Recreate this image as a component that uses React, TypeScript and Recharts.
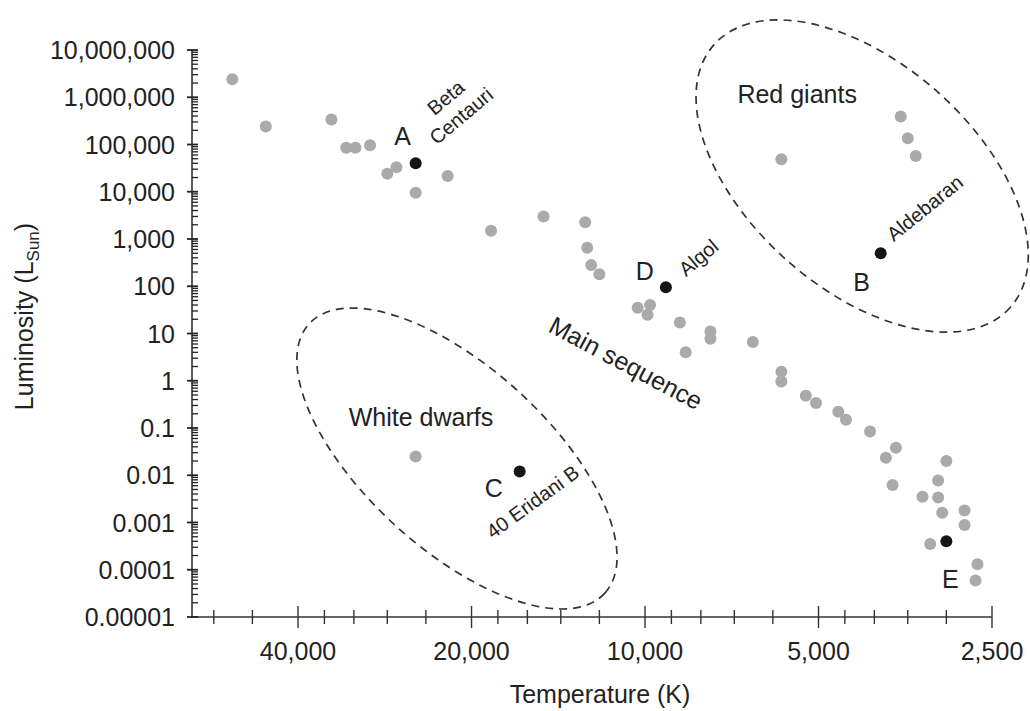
import React from 'react';
import { ScatterChart, Scatter, XAxis, YAxis, ReferenceDot, Label } from 'recharts';

// ---------- data ----------
const mainSequenceStars = [
  { t: 52000, l: 2400000 }, { t: 45500, l: 240000 }, { t: 35000, l: 340000 },
  { t: 33000, l: 85000 }, { t: 31800, l: 85000 }, { t: 30000, l: 96000 },
  { t: 28000, l: 24000 }, { t: 27000, l: 33000 }, { t: 25000, l: 9500 },
  { t: 22000, l: 21500 }, { t: 18500, l: 1500 }, { t: 15000, l: 3000 },
  { t: 12700, l: 2250 }, { t: 12600, l: 650 }, { t: 12400, l: 280 },
  { t: 12000, l: 180 }, { t: 10300, l: 35 }, { t: 9800, l: 40 },
  { t: 9900, l: 25 }, { t: 8700, l: 17 }, { t: 7700, l: 11 },
  { t: 7700, l: 7.7 }, { t: 8500, l: 4 }, { t: 6500, l: 6.6 },
  { t: 5800, l: 1.55 }, { t: 5800, l: 0.96 }, { t: 5260, l: 0.48 },
  { t: 5050, l: 0.34 }, { t: 4620, l: 0.22 }, { t: 4480, l: 0.15 },
  { t: 4070, l: 0.084 }, { t: 3670, l: 0.038 }, { t: 3820, l: 0.0235 },
  { t: 3000, l: 0.02 }, { t: 3720, l: 0.0062 }, { t: 3100, l: 0.0077 },
  { t: 3300, l: 0.0035 }, { t: 3100, l: 0.0034 }, { t: 3050, l: 0.0016 },
  { t: 2790, l: 0.0018 }, { t: 2790, l: 0.00089 }, { t: 3200, l: 0.00035 },
  { t: 2650, l: 0.00013 }, { t: 2670, l: 0.000059 },
];
const giantStars = [
  { t: 5800, l: 49000 }, { t: 3600, l: 390000 }, { t: 3500, l: 135000 }, { t: 3390, l: 57000 },
];
const dwarfStars = [{ t: 25000, l: 0.025 }];

const namedStars = [
  { t: 25000, l: 40000, letter: 'A', name: ['Beta', 'Centauri'] },
  { t: 3900, l: 500, letter: 'B', name: ['Aldebaran'] },
  { t: 16500, l: 0.012, letter: 'C', name: ['40 Eridani B'] },
  { t: 9200, l: 95, letter: 'D', name: ['Algol'] },
  { t: 3000, l: 0.0004, letter: 'E', name: [] as string[] },
];

const regions = [
  { key: 'giants', name: 'Red giants', t: 4200, l: 21500 },
  { key: 'dwarfs', name: 'White dwarfs', t: 21200, l: 0.0226 },
];
const sequenceLabel = { name: 'Main sequence', t: 14800, l: 11.3 };

const xMajorTicks = [40000, 20000, 10000, 5000, 2500];
const xMajorLabels = ['40,000', '20,000', '10,000', '5,000', '2,500'];
const xMinorTicks = [56000, 48000, 36000, 32000, 28000, 24000, 18000, 16000, 14000, 12000,
  9000, 8000, 7000, 6000, 4500, 4000, 3500, 3000];

const yMajorTicks = [1e7, 1e6, 1e5, 1e4, 1e3, 100, 10, 1, 0.1, 0.01, 0.001, 0.0001, 0.00001];
const yMajorLabels = ['10,000,000', '1,000,000', '100,000', '10,000', '1,000', '100', '10', '1',
  '0.1', '0.01', '0.001', '0.0001', '0.00001'];
const yMinorMultipliers = [2, 3, 4, 5, 6, 7, 8, 9];

const xDomain = [2500, 61100];
const yDomain = [0.00001, 10000000];

// ---------- styles ----------
const FONT = "'Liberation Sans', Arial, Helvetica, sans-serif";
const TEXT = '#222';
const AXIS = '#333';
const GREY = '#aaaaaa';
const BLACK = '#151515';
const DOT_R = 6;

const starLabelStyle: Record<string, any> = {
  A: { ldx: -13, ldy: -18, ndx: 50, ndy: -42, angle: -40, size: 20, anchor: 'middle', gap: 24 },
  B: { ldx: -19, ldy: 38, ndx: 13, ndy: -11, angle: -39, size: 20, anchor: 'start', gap: 0 },
  C: { ldx: -26, ldy: 25, ndx: -27, ndy: 68, angle: -36, size: 20, anchor: 'start', gap: 0 },
  D: { ldx: -21, ldy: -7, ndx: 20, ndy: -10, angle: -40, size: 20, anchor: 'start', gap: 0 },
  E: { ldx: 4, ldy: 47, ndx: 0, ndy: 0, angle: 0, size: 20, anchor: 'start', gap: 0 },
};

const regionStyle: Record<string, any> = {
  giants: { rx: 198, ry: 113, angle: 41.5, tdx: -65, tdy: -73 },
  dwarfs: { rx: 200, ry: 91, angle: 42.3, tdx: -36, tdy: -33 },
};

// ---------- helpers ----------
const yMinorTicks: number[] = [];
yMajorTicks.forEach((v) => {
  if (v < 1e7) yMinorMultipliers.forEach((m) => yMinorTicks.push(v * m));
});
const xTicks = [...xMajorTicks, ...xMinorTicks];
const yTicks = [...yMajorTicks, ...yMinorTicks];

const XTick = (props: any) => {
  const { x, y, payload } = props;
  const idx = xMajorTicks.indexOf(payload.value);
  const major = idx >= 0;
  const h = major ? 11 : 7;
  return (
    <g>
      <line x1={x} x2={x} y1={y - h} y2={y + h} stroke={AXIS} strokeWidth={1.4} />
      {major && (
        <text x={x} y={y + 43} textAnchor="middle" fontSize={25} fill={TEXT} fontFamily={FONT}>
          {xMajorLabels[idx]}
        </text>
      )}
    </g>
  );
};

const YTick = (props: any) => {
  const { x, y, payload } = props;
  const idx = yMajorTicks.indexOf(payload.value);
  const major = idx >= 0;
  return (
    <g>
      <line x1={major ? x - 5 : x} x2={x + 6} y1={y} y2={y} stroke="#222" strokeWidth={major ? 1.8 : 1.3} />
      {major && (
        <text x={x - 17} y={y} dy="0.36em" textAnchor="end" fontSize={25} fill={TEXT} fontFamily={FONT}>
          {yMajorLabels[idx]}
        </text>
      )}
    </g>
  );
};

const greyDot = (props: any) => <circle cx={props.cx} cy={props.cy} r={DOT_R} fill={GREY} />;

const namedDot = (props: any) => {
  const { cx, cy, payload } = props;
  const s = starLabelStyle[payload.letter];
  const lines: string[] = payload.name || [];
  return (
    <g fontFamily={FONT} fill={TEXT}>
      <circle cx={cx} cy={cy} r={DOT_R} fill={BLACK} />
      <text x={cx + s.ldx} y={cy + s.ldy} textAnchor="middle" fontSize={25}>{payload.letter}</text>
      {lines.length > 0 && (
        <g transform={`translate(${cx + s.ndx} ${cy + s.ndy}) rotate(${s.angle})`}>
          {lines.map((ln, i) => (
            <text key={i} x={0} y={-(lines.length - 1 - i) * s.gap} textAnchor={s.anchor} fontSize={s.size}>
              {ln}
            </text>
          ))}
        </g>
      )}
    </g>
  );
};

const regionShape = (key: string, name: string) => (props: any) => {
  const { cx, cy } = props;
  const s = regionStyle[key];
  return (
    <g>
      <ellipse cx={cx} cy={cy} rx={s.rx} ry={s.ry} transform={`rotate(${s.angle} ${cx} ${cy})`}
        fill="none" stroke={AXIS} strokeWidth={1.7} strokeDasharray="8 6" />
      <text x={cx + s.tdx} y={cy + s.tdy} textAnchor="middle" fontSize={25} fill={TEXT} fontFamily={FONT}>
        {name}
      </text>
    </g>
  );
};

const sequenceShape = (props: any) => (
  <text transform={`translate(${props.cx} ${props.cy}) rotate(28)`} fontSize={25} fill={TEXT} fontFamily={FONT}>
    {sequenceLabel.name}
  </text>
);

const XTitle = (props: any) => {
  const vb = props.viewBox || { x: 192, y: 617, width: 800, height: 60 };
  return (
    <text x={vb.x + vb.width / 2 + 8} y={vb.y + 86} textAnchor="middle" fontSize={25} fill={TEXT} fontFamily={FONT}>
      Temperature (K)
    </text>
  );
};

const YTitle = (props: any) => {
  const vb = props.viewBox || { x: 42, y: 50, width: 150, height: 567 };
  const x = vb.x + vb.width - 159;
  const y = vb.y + vb.height / 2 - 17;
  return (
    <text transform={`translate(${x} ${y}) rotate(-90)`} textAnchor="middle" fontSize={25} fill={TEXT} fontFamily={FONT}>
      Luminosity (L<tspan dy={6} fontSize={17}>Sun</tspan><tspan dy={-6}>)</tspan>
    </text>
  );
};

export default function App() {
  return (
    <div style={{ position: 'absolute', left: 0, top: 0, width: 1030, height: 711, background: '#fff', fontFamily: FONT }}>
      <ScatterChart width={1030} height={711} margin={{ top: 50, right: 38, bottom: 34, left: 42 }}>
        <XAxis
          type="number" dataKey="t" scale="log" domain={xDomain} allowDataOverflow reversed
          ticks={xTicks} interval={0} tickSize={0} tickMargin={0} tickLine={false}
          tick={<XTick />} height={60} axisLine={{ stroke: AXIS, strokeWidth: 1.6 }}
        >
          <Label content={<XTitle />} />
        </XAxis>
        <YAxis
          type="number" dataKey="l" scale="log" domain={yDomain} allowDataOverflow
          ticks={yTicks} interval={0} tickSize={0} tickMargin={0} tickLine={false}
          tick={<YTick />} width={150} axisLine={{ stroke: AXIS, strokeWidth: 1.6 }}
        >
          <Label content={<YTitle />} />
        </YAxis>
        {regions.map((r) => (
          <ReferenceDot key={r.key} x={r.t} y={r.l} ifOverflow="visible" shape={regionShape(r.key, r.name)} />
        ))}
        <ReferenceDot x={sequenceLabel.t} y={sequenceLabel.l} ifOverflow="visible" shape={sequenceShape} />
        <Scatter data={mainSequenceStars} shape={greyDot} isAnimationActive={false} />
        <Scatter data={giantStars} shape={greyDot} isAnimationActive={false} />
        <Scatter data={dwarfStars} shape={greyDot} isAnimationActive={false} />
        <Scatter data={namedStars} shape={namedDot} isAnimationActive={false} />
      </ScatterChart>
    </div>
  );
}
